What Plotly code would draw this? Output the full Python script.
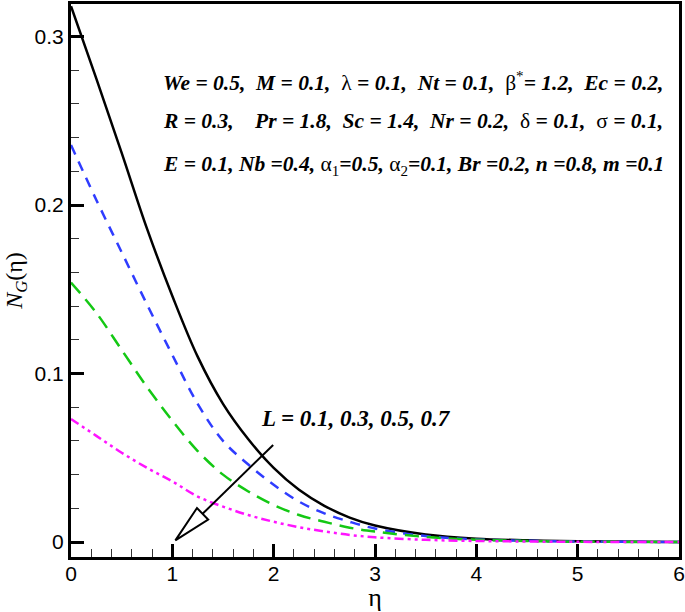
import plotly.graph_objects as go

# eta grid and N_G(eta) curves
eta = [0, 0.25, 0.5, 0.75, 1.0, 1.25, 1.5, 1.75, 2.0, 2.25, 2.5, 2.75, 3.0, 3.5, 4.0, 4.5, 5.0, 6.0]
ng_L01 = [0.318, 0.275, 0.231, 0.186, 0.146, 0.110, 0.082, 0.061, 0.044, 0.031, 0.0215, 0.0145, 0.0098, 0.0045, 0.002, 0.001, 0.0004, 0.0]
ng_L03 = [0.2356, 0.203, 0.172, 0.141, 0.111, 0.082, 0.060, 0.046, 0.034, 0.024, 0.017, 0.012, 0.008, 0.0035, 0.0015, 0.0007, 0.0003, 0.0]
ng_L05 = [0.154, 0.136, 0.114, 0.092, 0.072, 0.054, 0.040, 0.030, 0.022, 0.016, 0.012, 0.0085, 0.0062, 0.003, 0.0013, 0.0006, 0.0002, 0.0]
ng_L07 = [0.073, 0.063, 0.053, 0.044, 0.036, 0.027, 0.021, 0.016, 0.012, 0.0088, 0.0063, 0.0042, 0.0028, 0.0013, 0.0006, 0.0003, 0.0001, 0.0]

series = [
    ('L = 0.1', ng_L01, dict(color='black', width=2.5, dash='solid')),
    ('L = 0.3', ng_L03, dict(color='#2f3cff', width=2.5, dash='10px,8px')),
    ('L = 0.5', ng_L05, dict(color='#14c814', width=2.5, dash='14px,8px')),
    ('L = 0.7', ng_L07, dict(color='#ff14ff', width=2.5, dash='9px,4px,3px,4px,3px,4px')),
]

x_range = [0, 6]
y_range = [-0.0089, 0.3193]

W, H = 685, 612
M = dict(l=71, r=6, t=4, b=55)

fig = go.Figure()
for name, ys, ln in series:
    fig.add_trace(go.Scatter(x=eta, y=ys, mode='lines', name=name,
                             line=dict(shape='spline', smoothing=1.0, **ln)))

# arrow (direction of increasing L)
arrow_start = (1.995, 0.0576)
arrow_tip = (1.03, 0.001)

pw = W - M['l'] - M['r']
ph = H - M['t'] - M['b']
sx = pw / (x_range[1] - x_range[0])
sy = ph / (y_range[1] - y_range[0])

def to_px(p):
    return (p[0] * sx, -p[1] * sy)

def to_data(p):
    return (p[0] / sx, -p[1] / sy)

s = to_px(arrow_start)
t = to_px(arrow_tip)
dx, dy = t[0] - s[0], t[1] - s[1]
ln_ = (dx ** 2 + dy ** 2) ** 0.5
ux, uy = dx / ln_, dy / ln_
head_len, head_half = 38, 8
bc = (t[0] - head_len * ux, t[1] - head_len * uy)
b1 = to_data((bc[0] - head_half * uy, bc[1] + head_half * ux))
b2 = to_data((bc[0] + head_half * uy, bc[1] - head_half * ux))
bcd = to_data(bc)

fig.add_shape(type='line', x0=arrow_start[0], y0=arrow_start[1], x1=bcd[0], y1=bcd[1],
              line=dict(color='black', width=2))
fig.add_shape(type='path',
              path=f'M {b1[0]},{b1[1]} L {arrow_tip[0]},{arrow_tip[1]} L {b2[0]},{b2[1]} Z',
              line=dict(color='black', width=2), fillcolor='white')

bi = lambda s_: f'<b><i>{s_}</i></b>'
param_lines = [
    bi('We = 0.5,  M = 0.1,  ') + 'λ' + bi(' = 0.1,  Nt = 0.1,  ') + 'β<sup>*</sup>' + bi('= 1.2,  Ec = 0.2,'),
    bi('R = 0.3,    Pr = 1.8,  Sc = 1.4,  Nr = 0.2,  ') + 'δ' + bi(' = 0.1,  ') + 'σ' + bi(' = 0.1,'),
    bi('E = 0.1, Nb =0.4, ') + 'α<sub>1</sub>' + bi('=0.5, ') + 'α<sub>2</sub>' + bi('=0.1, Br =0.2, n =0.8, m =0.1'),
]
param_y = [0.2735, 0.2497, 0.2237]
for txt, yy in zip(param_lines, param_y):
    fig.add_annotation(x=0.89, y=yy, xref='x', yref='y', text=txt, showarrow=False,
                       xanchor='left', yanchor='middle',
                       font=dict(family='Liberation Serif', size=21.5, color='black'))

fig.add_annotation(x=1.86, y=0.0735, xref='x', yref='y', text=bi('L = 0.1, 0.3, 0.5, 0.7'),
                   showarrow=False, xanchor='left', yanchor='middle',
                   font=dict(family='Liberation Serif', size=23, color='black'))

fig.update_layout(
    width=W, height=H, margin=M,
    paper_bgcolor='white', plot_bgcolor='white',
    showlegend=False,
    font=dict(family='Liberation Sans', size=21, color='black'),
)
fig.update_xaxes(
    range=x_range, showgrid=False, zeroline=False, automargin=False,
    showline=True, linewidth=3, linecolor='black', mirror=True,
    ticks='inside', ticklen=13, tickwidth=3, tickcolor='black', dtick=1, tick0=0,
    ticklabeloverflow='allow', ticklabelstandoff=-4,
    minor=dict(ticks='inside', dtick=0.2, ticklen=8, tickwidth=1, tickcolor='#333'),
    title=dict(text='η', font=dict(family='Liberation Serif', size=26), standoff=0),
)
fig.update_yaxes(
    range=y_range, showgrid=False, zeroline=False, automargin=False,
    showline=True, linewidth=3, linecolor='black', mirror=True,
    ticks='inside', ticklen=13, tickwidth=3, tickcolor='black', dtick=0.1, tick0=0,
    ticklabeloverflow='allow',
    minor=dict(ticks='inside', dtick=0.02, ticklen=8, tickwidth=1, tickcolor='#333'),
    title=dict(text='<i>N</i><sub><i>G</i></sub>(η)', font=dict(family='Liberation Serif', size=24), standoff=6),
)

# drop the default page margin so the figure sits at the window's top-left corner
fig.write_html('out.html', config={'displayModeBar': False},
               post_script="document.body.style.margin='0';")
